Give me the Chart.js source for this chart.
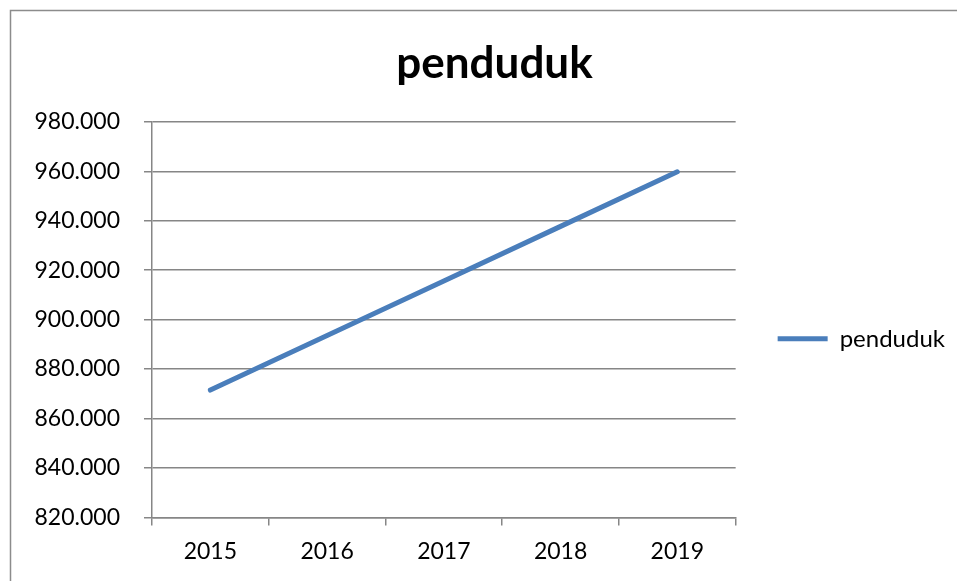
<!DOCTYPE html>
<html>
<head>
<meta charset="utf-8">
<script src="https://cdn.jsdelivr.net/npm/chart.js@4/dist/chart.umd.min.js"></script>
<style>
    html, body { margin: 0; padding: 0; background: #ffffff; overflow: hidden; }
    canvas { display: block; }
</style>
</head>
<body>
<canvas id="chartPenduduk" width="957" height="581"></canvas>
<script>
const tahun = ['2015', '2016', '2017', '2018', '2019'];
const penduduk = [871500, 893600, 915600, 937700, 959800];
const yMin = 820000;
const yMax = 980000;
const yStep = 20000;

const gridColor = '#868686';
const fontFamily = 'Lato, "Open Sans", sans-serif';

function formatRibuan(value) {
    return Math.round(value).toString().replace(/\B(?=(\d{3})+(?!\d))/g, '.');
}

// outer frame of the chart, cut off on the right and bottom like the picture
const frameBorder = {
    id: 'frameBorder',
    beforeDraw(chart) {
        const ctx = chart.ctx;
        ctx.save();
        ctx.fillStyle = '#ffffff';
        ctx.fillRect(0, 0, chart.width, chart.height);
        ctx.strokeStyle = '#8c8c8c';
        ctx.lineWidth = 1.5;
        ctx.strokeRect(10.5, 10.5, chart.width + 40, chart.height + 40);
        ctx.restore();
    }
};

new Chart(document.getElementById('chartPenduduk'), {
    type: 'line',
    data: {
        labels: tahun,
        datasets: [{
            label: 'penduduk',
            data: penduduk,
            borderColor: '#4a7ebb',
            backgroundColor: '#4a7ebb',
            borderWidth: 5,
            borderCapStyle: 'round',
            pointRadius: 0,
            pointHoverRadius: 0,
            tension: 0
        }]
    },
    options: {
        responsive: false,
        animation: false,
        devicePixelRatio: 1,
        layout: {
            padding: { left: 34, right: 2, top: 10, bottom: 4 }
        },
        plugins: {
            title: {
                display: true,
                text: 'penduduk',
                color: '#000000',
                font: { family: fontFamily, size: 44, weight: 'bold' },
                padding: { top: 27, bottom: 32 }
            },
            legend: {
                position: 'right',
                fullSize: false,
                title: {
                    display: true,
                    text: '',
                    font: { size: 12 },
                    padding: { top: 12, bottom: 12 }
                },
                labels: {
                    usePointStyle: true,
                    pointStyle: 'line',
                    pointStyleWidth: 50,
                    padding: 42,
                    color: '#000000',
                    font: { family: fontFamily, size: 24 }
                }
            },
            tooltip: { enabled: false }
        },
        scales: {
            x: {
                offset: true,
                grid: {
                    offset: true,
                    drawOnChartArea: false,
                    drawTicks: true,
                    tickLength: 8,
                    color: gridColor,
                    lineWidth: 1.5
                },
                border: { color: gridColor, width: 1.5 },
                ticks: {
                    color: '#000000',
                    padding: 12,
                    maxRotation: 0,
                    font: { family: fontFamily, size: 23 }
                }
            },
            y: {
                min: yMin,
                max: yMax,
                afterFit: scale => { scale.width = 118; },
                grid: {
                    color: gridColor,
                    lineWidth: 1.5,
                    drawTicks: true,
                    tickLength: 8
                },
                border: { color: gridColor, width: 1.5 },
                ticks: {
                    stepSize: yStep,
                    color: '#000000',
                    padding: 24,
                    font: { family: fontFamily, size: 23 },
                    callback: v => formatRibuan(v)
                }
            }
        }
    },
    plugins: [frameBorder]
});
</script>
</body>
</html>
